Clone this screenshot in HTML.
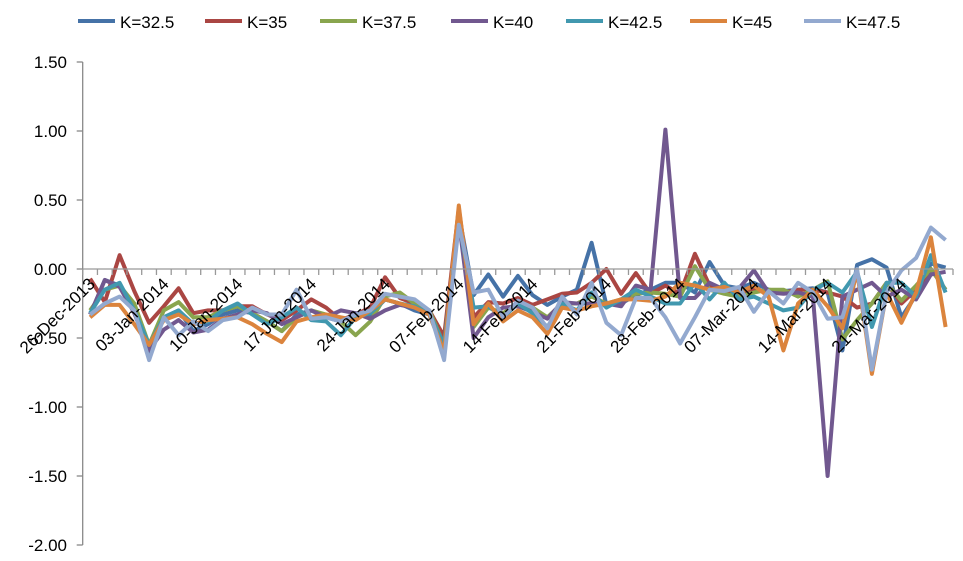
<!DOCTYPE html>
<html><head><meta charset="utf-8">
<style>
html,body{margin:0;padding:0;background:#fff;}
svg{display:block;font-family:"Liberation Sans",Arial,sans-serif;}
</style></head>
<body>
<svg id="chart" width="963" height="561" viewBox="0 0 963 561" xmlns="http://www.w3.org/2000/svg">
<g id="legend"></g>
<g id="yaxis"></g>
<g id="series"></g>
<g id="xaxis"></g>
</svg>
<script>
const seriesNames = ["K=32.5","K=35","K=37.5","K=40","K=42.5","K=45","K=47.5"];
const seriesColors = ["#4572A7","#AA4643","#89A54E","#71588F","#4198AF","#DB843D","#93A9CF"];
const xLabels = ["26-Dec-2013","03-Jan-2014","10-Jan-2014","17-Jan-2014","24-Jan-2014","07-Feb-2014","14-Feb-2014","21-Feb-2014","28-Feb-2014","07-Mar-2014","14-Mar-2014","21-Mar-2014"];
const yTicks = [1.5,1.0,0.5,0.0,-0.5,-1.0,-1.5,-2.0];
const k325 = [-0.33,-0.08,-0.12,-0.30,-0.60,-0.35,-0.30,-0.45,-0.40,-0.33,-0.30,-0.32,-0.38,-0.45,-0.33,-0.30,-0.35,-0.38,-0.32,-0.33,-0.22,-0.25,-0.30,-0.33,-0.60,0.40,-0.19,-0.04,-0.20,-0.05,-0.19,-0.26,-0.20,-0.15,0.19,-0.26,-0.25,-0.19,-0.15,-0.10,-0.10,-0.17,0.05,-0.12,-0.14,-0.10,-0.15,-0.16,-0.15,-0.14,-0.17,-0.59,0.03,0.07,0.01,-0.35,-0.19,0.04,0.01];
const k35 = [-0.07,-0.24,0.10,-0.16,-0.39,-0.27,-0.14,-0.32,-0.30,-0.30,-0.27,-0.27,-0.33,-0.37,-0.30,-0.22,-0.28,-0.37,-0.33,-0.28,-0.06,-0.21,-0.25,-0.30,-0.49,0.44,-0.35,-0.24,-0.25,-0.21,-0.26,-0.22,-0.18,-0.17,-0.10,0.00,-0.18,-0.03,-0.18,-0.12,-0.18,0.11,-0.12,-0.15,-0.18,-0.15,-0.17,-0.17,-0.15,-0.15,-0.17,-0.20,-0.28,-0.25,-0.10,-0.25,-0.15,0.00,-0.15];
const k375 = [-0.30,-0.15,-0.12,-0.25,-0.55,-0.30,-0.24,-0.35,-0.35,-0.30,-0.27,-0.32,-0.38,-0.45,-0.35,-0.30,-0.33,-0.38,-0.48,-0.38,-0.20,-0.17,-0.25,-0.30,-0.55,0.40,-0.42,-0.28,-0.32,-0.25,-0.28,-0.35,-0.25,-0.25,-0.20,-0.25,-0.22,-0.18,-0.17,-0.18,-0.20,0.02,-0.15,-0.18,-0.20,-0.17,-0.15,-0.15,-0.20,-0.15,-0.09,-0.51,-0.37,-0.25,-0.10,-0.23,-0.12,0.00,-0.15];
const k40 = [-0.33,-0.08,-0.13,-0.32,-0.59,-0.44,-0.37,-0.46,-0.44,-0.36,-0.33,-0.30,-0.32,-0.40,-0.35,-0.30,-0.35,-0.30,-0.32,-0.36,-0.30,-0.26,-0.28,-0.32,-0.55,0.35,-0.50,-0.35,-0.28,-0.27,-0.31,-0.36,-0.24,-0.25,-0.25,-0.25,-0.27,-0.12,-0.15,1.01,-0.21,-0.21,-0.10,-0.15,-0.14,-0.01,-0.17,-0.18,-0.17,-0.20,-1.50,-0.20,-0.15,-0.10,-0.20,-0.15,-0.22,-0.04,-0.02];
const k425 = [-0.32,-0.15,-0.10,-0.30,-0.55,-0.35,-0.30,-0.40,-0.38,-0.30,-0.25,-0.33,-0.40,-0.35,-0.28,-0.37,-0.38,-0.48,-0.35,-0.32,-0.22,-0.25,-0.27,-0.32,-0.55,0.35,-0.28,-0.27,-0.35,-0.25,-0.32,-0.42,-0.25,-0.30,-0.17,-0.28,-0.22,-0.15,-0.20,-0.25,-0.25,-0.10,-0.22,-0.10,-0.22,-0.20,-0.25,-0.30,-0.28,-0.15,-0.10,-0.17,-0.02,-0.42,-0.10,-0.10,-0.20,0.10,-0.17];
const k45 = [-0.35,-0.26,-0.26,-0.40,-0.55,-0.37,-0.33,-0.40,-0.37,-0.36,-0.35,-0.40,-0.47,-0.53,-0.38,-0.35,-0.33,-0.35,-0.37,-0.30,-0.22,-0.25,-0.28,-0.33,-0.60,0.46,-0.40,-0.25,-0.38,-0.30,-0.35,-0.47,-0.28,-0.30,-0.27,-0.25,-0.22,-0.22,-0.23,-0.20,-0.10,-0.12,-0.15,-0.13,-0.17,-0.12,-0.20,-0.59,-0.25,-0.15,-0.27,-0.43,-0.02,-0.76,-0.17,-0.39,-0.17,0.23,-0.42];
const k475 = [-0.33,-0.25,-0.20,-0.30,-0.66,-0.35,-0.48,-0.38,-0.45,-0.37,-0.35,-0.28,-0.33,-0.33,-0.15,-0.36,-0.35,-0.38,-0.33,-0.30,-0.18,-0.20,-0.22,-0.30,-0.66,0.32,-0.17,-0.15,-0.35,-0.23,-0.28,-0.43,-0.20,-0.33,-0.10,-0.39,-0.48,-0.21,-0.21,-0.35,-0.54,-0.35,-0.15,-0.16,-0.13,-0.31,-0.16,-0.25,-0.10,-0.17,-0.36,-0.35,0.00,-0.73,-0.17,-0.01,0.08,0.30,0.21];
const allSeries = [k325,k35,k375,k40,k425,k45,k475];

const NS = "http://www.w3.org/2000/svg";
const plotL = 82.7, plotR = 953, yTop = 62, yBot = 545, vMax = 1.5, vMin = -2.0;
const nCat = k325.length;
const step = (plotR - plotL) / nCat;
function xScale(i){ return plotL + step * (i + 0.5); }
function yScale(v){ return yTop + (vMax - v) / (vMax - vMin) * (yBot - yTop); }
function mk(tag, attrs, parent){ const e = document.createElementNS(NS, tag); for (const k in attrs) e.setAttribute(k, attrs[k]); parent.appendChild(e); return e; }

// y axis
const ya = document.getElementById('yaxis');
const yl = mk('line', {x1:plotL, y1:yTop, x2:plotL, y2:yBot, stroke:'#888', 'stroke-width':1.3}, ya);


yTicks.forEach(v => {
  const y = yScale(v);
  const t = mk('line', {x1:plotL-6, y1:y, x2:plotL, y2:y, stroke:'#888', 'stroke-width':1.3}, ya);
  
  
  const tx = mk('text', {x:67, y:y+6, 'text-anchor':'end', 'font-size':17, fill:'#000'}, ya);
  tx.textContent = v.toFixed(2);
  
  
});

// x axis at zero
const xa = document.getElementById('xaxis');
const y0 = yScale(0);
const xl = mk('line', {x1:plotL, y1:y0, x2:plotR, y2:y0, stroke:'#999', 'stroke-width':1.3}, xa);


for (let i = 0; i <= nCat; i++) {
  const x = plotL + step * i;
  const t = mk('line', {x1:x, y1:y0, x2:x, y2:y0+6, stroke:'#999', 'stroke-width':1.3}, xa);
  
  
}
xLabels.forEach((lab, k) => {
  const x = xScale(k*5) + 6, y = y0 + 16;
  const tx = mk('text', {x:x, y:y, 'text-anchor':'end', 'font-size':17, fill:'#000', transform:'rotate(-45 '+x+' '+y+')'}, xa);
  tx.textContent = lab;
  
  
});

// series
const sg = document.getElementById('series');
allSeries.forEach((vals, s) => {
  const pts = vals.map((v,i) => xScale(i).toFixed(1)+','+yScale(v).toFixed(1)).join(' ');
  const pl = mk('polyline', {points:pts, fill:'none', stroke:seriesColors[s], 'stroke-width':4, 'stroke-linejoin':'round'}, sg);
  
  
});

// legend
const lg = document.getElementById('legend');
const legX = [120,247,362,493,608,732,846];
seriesNames.forEach((n, s) => {
  const ln = mk('line', {x1:legX[s]-42, y1:21, x2:legX[s]-5, y2:21, stroke:seriesColors[s], 'stroke-width':4}, lg);
  
  
  const tx = mk('text', {x:legX[s], y:28, 'font-size':17, fill:'#000'}, lg);
  tx.textContent = n;
  
  
});
</script>
</body></html>
